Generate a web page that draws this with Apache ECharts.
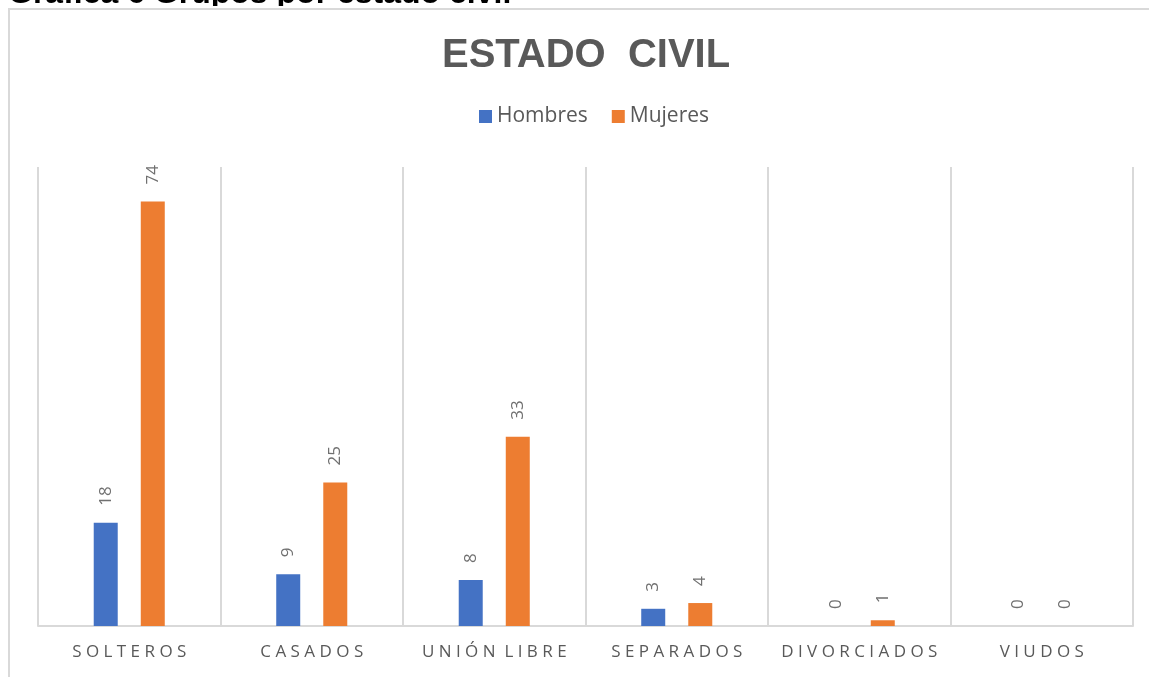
<!DOCTYPE html>
<html>
<head>
<meta charset="utf-8">
<title>Estado civil</title>
<script src="https://cdn.jsdelivr.net/npm/echarts@6/dist/echarts.min.js"></script>
<style>
  html, body { margin: 0; padding: 0; background: #fff; }
  #chart { width: 1149px; height: 677px; }
</style>
</head>
<body>
<div id="chart"></div>
<script>
// datos de la gráfica
const categorias = ['SOLTEROS', 'CASADOS', 'UNIÓN LIBRE', 'SEPARADOS', 'DIVORCIADOS', 'VIUDOS'];
const hombres = [18, 9, 8, 3, 0, 0];
const mujeres = [74, 25, 33, 4, 1, 0];
const nombresSeries = ['Hombres', 'Mujeres'];

const GRIS = '#595959';
const LINEA = '#d9d9d9';

// separar letras para imitar el espaciado del original
function espaciar(txt) {
  return txt.split(' ').map(p => p.split('').join(' ')).join('  ');
}

const chart = echarts.init(document.getElementById('chart'), null, { renderer: 'canvas' });

const etiqueta = {
  show: true,
  position: 'top',
  rotate: 90,
  align: 'left',
  verticalAlign: 'middle',
  distance: 17,
  fontFamily: 'Open Sans',
  fontSize: 17,
  color: '#707070'
};

const option = {
  animation: false,
  backgroundColor: '#fff',
  graphic: [
    {
      type: 'text',
      left: 8,
      top: -22,
      z: 1,
      style: {
        text: 'Gráfica 6 Grupos por estado civil',
        font: 'bold 32px "Liberation Sans"',
        fill: '#000'
      }
    },
    {
      // tapa los trazos descendentes del texto cortado
      type: 'rect',
      shape: { x: 0, y: 6, width: 1149, height: 3 },
      style: { fill: '#fff' },
      z: 2
    },
    {
      type: 'rect',
      shape: { x: 9, y: 9, width: 1160, height: 700 },
      style: { fill: 'none', stroke: LINEA, lineWidth: 2 },
      z: 3
    }
  ],
  title: {
    text: 'ESTADO  CIVIL',
    left: 437,
    top: 31,
    textStyle: {
      fontFamily: 'Liberation Sans',
      fontSize: 40,
      fontWeight: 'bold',
      color: GRIS
    }
  },
  legend: {
    data: nombresSeries,
    top: 101,
    left: 474,
    itemWidth: 13,
    itemHeight: 13,
    itemGap: 24,
    icon: 'rect',
    textStyle: {
      fontFamily: 'Open Sans',
      fontSize: 21,
      color: GRIS
    }
  },
  grid: {
    left: 38,
    right: 16,
    top: 167,
    bottom: 51,
    containLabel: false
  },
  xAxis: {
    type: 'category',
    data: categorias,
    axisLine: { lineStyle: { color: LINEA, width: 2 } },
    axisTick: { show: false },
    splitLine: { show: true, interval: 0, lineStyle: { color: LINEA, width: 2 } },
    axisLabel: {
      interval: 0,
      margin: 18,
      fontFamily: 'Open Sans',
      fontSize: 17,
      color: GRIS,
      formatter: espaciar
    }
  },
  yAxis: {
    type: 'value',
    min: 0,
    max: 80,
    show: false,
    splitLine: { show: false }
  },
  series: [
    {
      name: nombresSeries[0],
      type: 'bar',
      data: hombres,
      barWidth: 24,
      barGap: '96%',
      itemStyle: { color: '#4472C4' },
      label: etiqueta
    },
    {
      name: nombresSeries[1],
      type: 'bar',
      data: mujeres,
      barWidth: 24,
      itemStyle: { color: '#ED7D31' },
      label: etiqueta
    }
  ]
};

chart.setOption(option);
</script>
</body>
</html>
